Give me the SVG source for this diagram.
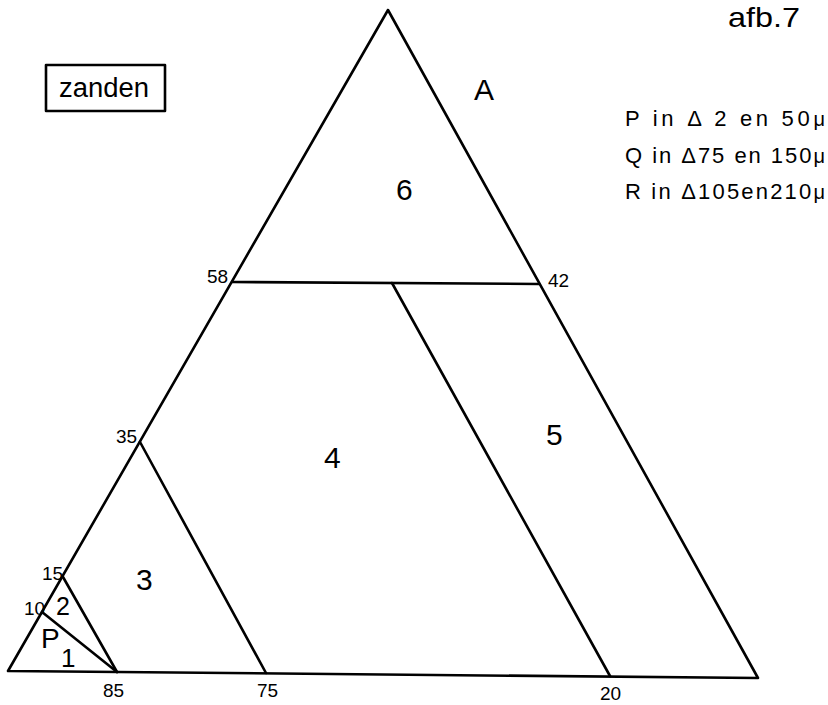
<svg xmlns="http://www.w3.org/2000/svg" width="828" height="705" viewBox="0 0 828 705">
<style>
.ln{stroke:#000;stroke-width:2.6;fill:none;stroke-linecap:round;stroke-linejoin:round}
text{font-family:"Liberation Sans","DejaVu Sans",sans-serif;fill:#000}
.num{font-size:19px}
.reg{font-size:30px}
.leg{font-size:22px}
</style>
<rect width="828" height="705" fill="#fff"/>
<g id="connectors">
<polygon class="ln" points="388,10 8,671 758,678"/>
<line class="ln" x1="232" y1="282" x2="539" y2="284"/>
<line class="ln" x1="392" y1="283" x2="610" y2="676"/>
<line class="ln" x1="140" y1="442" x2="266" y2="673"/>
<line class="ln" x1="63" y1="577" x2="117" y2="672"/>
<line class="ln" x1="42" y1="612" x2="117" y2="672"/>
</g>
<g id="title"><text x="728" y="27" font-size="28" textLength="72" lengthAdjust="spacingAndGlyphs">afb.7</text></g>
<g id="zanden"><rect class="ln" x="46" y="65" width="119" height="46"/><text x="59" y="97" font-size="27" textLength="90" lengthAdjust="spacingAndGlyphs">zanden</text></g>
<g id="legend">
<text class="leg" x="625" y="126" textLength="200" lengthAdjust="spacing">P in Δ 2 en 50<tspan font-size="20">μ</tspan></text>
<text class="leg" x="625" y="163" textLength="200" lengthAdjust="spacing">Q in Δ75 en 150<tspan font-size="20">μ</tspan></text>
<text class="leg" x="625" y="199" textLength="200" lengthAdjust="spacing">R in Δ105en210<tspan font-size="20">μ</tspan></text>
</g>
<g id="labels">
<text class="num" x="207" y="283">58</text>
<text class="num" x="548" y="287">42</text>
<text class="num" x="116" y="443">35</text>
<text class="num" x="42" y="580">15</text>
<text class="num" x="24" y="615">10</text>
<text class="num" x="103" y="697">85</text>
<text class="num" x="257" y="697">75</text>
<text class="num" x="600" y="700">20</text>
</g>
<g id="regions">
<text class="reg" x="474" y="100">A</text>
<text class="reg" x="396" y="200">6</text>
<text class="reg" x="324" y="468">4</text>
<text class="reg" x="546" y="445">5</text>
<text class="reg" x="136" y="590">3</text>
<text x="56" y="615" font-size="25">2</text>
<text x="41" y="648" font-size="28">P</text>
<text x="61" y="667" font-size="26">1</text>
</g>
</svg>
